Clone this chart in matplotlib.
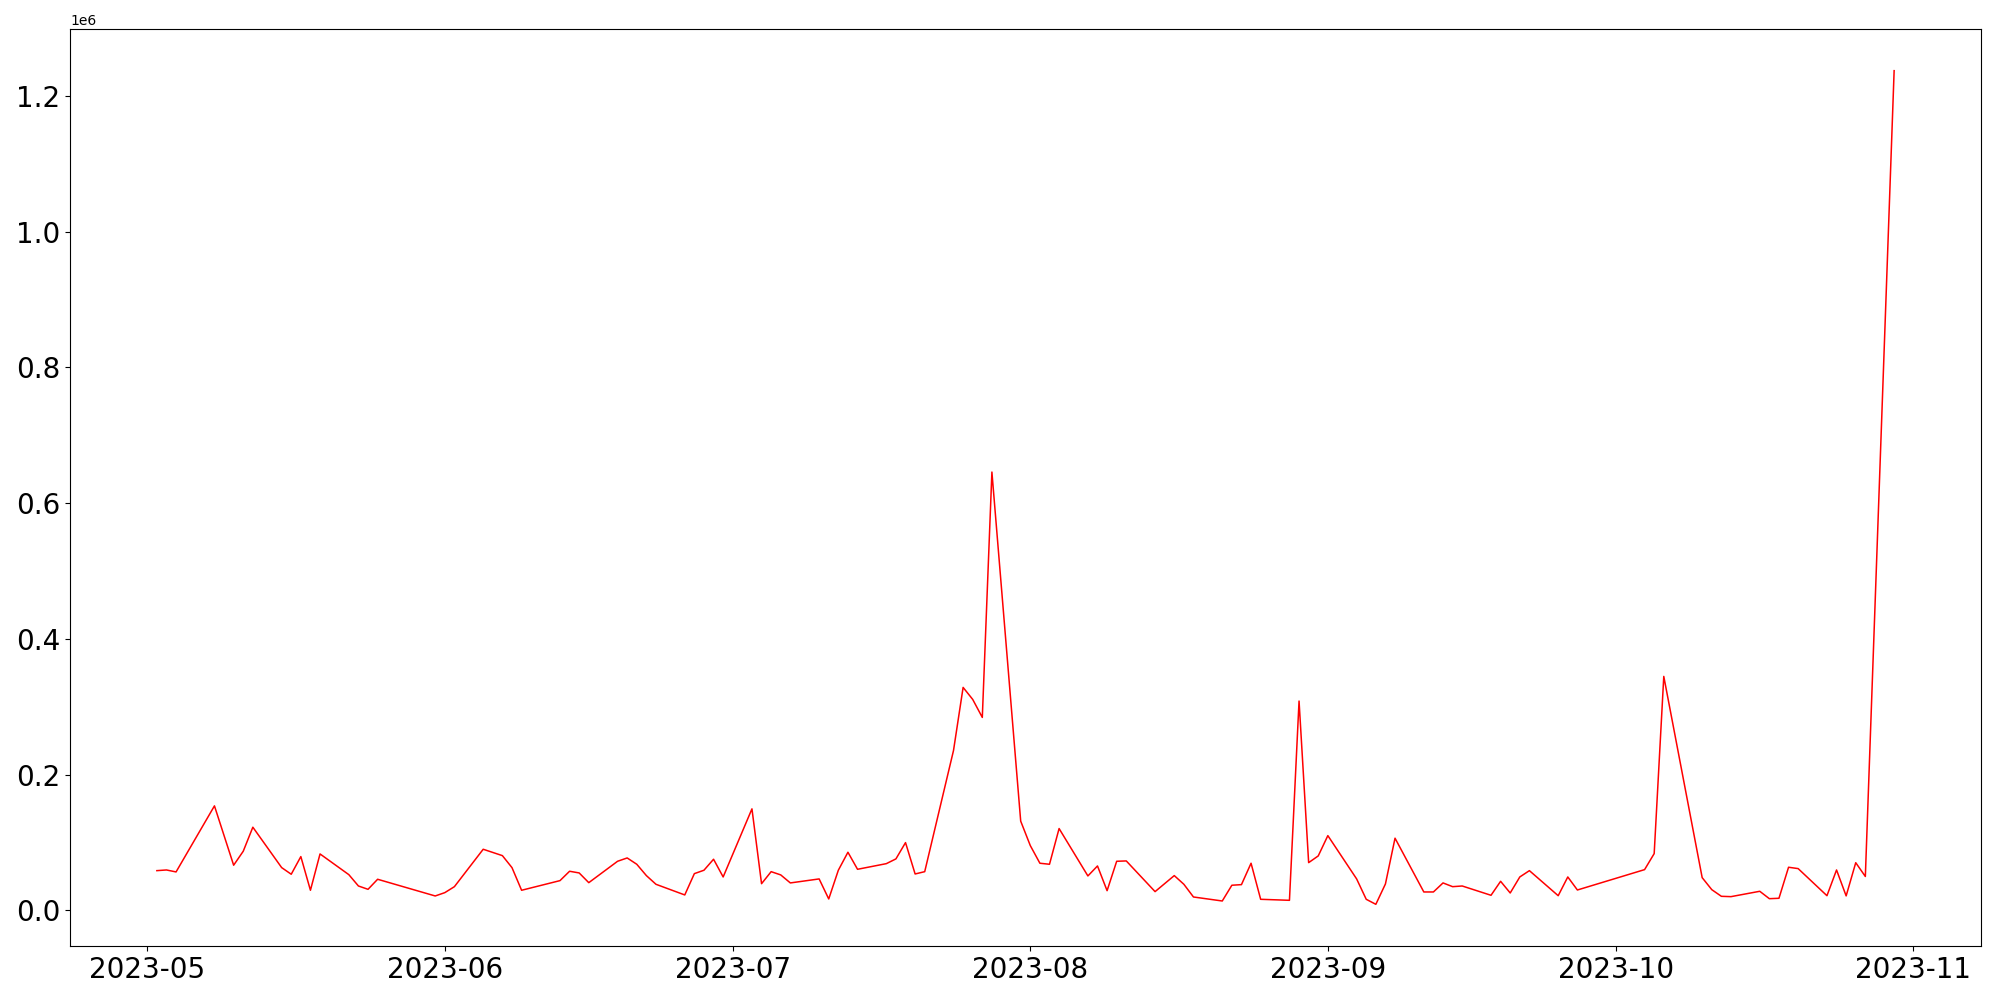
import pandas as pd
import matplotlib
matplotlib.use('Agg')
import matplotlib.pyplot as plt


# ----- Data -----
dates = [
    '2023-05-02', '2023-05-03', '2023-05-04', '2023-05-08', '2023-05-10',
    '2023-05-11', '2023-05-12', '2023-05-15', '2023-05-16', '2023-05-17',
    '2023-05-18', '2023-05-19', '2023-05-22', '2023-05-23', '2023-05-24',
    '2023-05-25', '2023-05-31', '2023-06-01', '2023-06-02', '2023-06-05',
    '2023-06-07', '2023-06-08', '2023-06-09', '2023-06-13', '2023-06-14',
    '2023-06-15', '2023-06-16', '2023-06-19', '2023-06-20', '2023-06-21',
    '2023-06-22', '2023-06-23', '2023-06-26', '2023-06-27', '2023-06-28',
    '2023-06-29', '2023-06-30', '2023-07-03', '2023-07-04', '2023-07-05',
    '2023-07-06', '2023-07-07', '2023-07-10', '2023-07-11', '2023-07-12',
    '2023-07-13', '2023-07-14', '2023-07-17', '2023-07-18', '2023-07-19',
    '2023-07-20', '2023-07-21', '2023-07-24', '2023-07-25', '2023-07-26',
    '2023-07-27', '2023-07-28', '2023-07-31', '2023-08-01', '2023-08-02',
    '2023-08-03', '2023-08-04', '2023-08-07', '2023-08-08', '2023-08-09',
    '2023-08-10', '2023-08-11', '2023-08-14', '2023-08-16', '2023-08-17',
    '2023-08-18', '2023-08-21', '2023-08-22', '2023-08-23', '2023-08-24',
    '2023-08-25', '2023-08-28', '2023-08-29', '2023-08-30', '2023-08-31',
    '2023-09-01', '2023-09-04', '2023-09-05', '2023-09-06', '2023-09-07',
    '2023-09-08', '2023-09-11', '2023-09-12', '2023-09-13', '2023-09-14',
    '2023-09-15', '2023-09-18', '2023-09-19', '2023-09-20', '2023-09-21',
    '2023-09-22', '2023-09-25', '2023-09-26', '2023-09-27', '2023-10-04',
    '2023-10-05', '2023-10-06', '2023-10-10', '2023-10-11', '2023-10-12',
    '2023-10-13', '2023-10-16', '2023-10-17', '2023-10-18', '2023-10-19',
    '2023-10-20', '2023-10-23', '2023-10-24', '2023-10-25', '2023-10-26',
    '2023-10-27', '2023-10-30',
]

values = [
    58700, 59700, 56800, 154100, 66700,
    87300, 122700, 63200, 53400, 79400,
    29800, 83300, 52800, 36100, 31200,
    46000, 21400, 26300, 35100, 90200,
    80800, 63100, 29800, 44000, 57800,
    55300, 41000, 72500, 77400, 68100,
    51400, 38600, 22900, 54300, 59300,
    75500, 49400, 149700, 39500, 57200,
    52400, 40600, 46500, 17000, 59300,
    85800, 60700, 69000, 76000, 100000,
    53800, 57200, 235700, 328600, 310900,
    284400, 645800, 131600, 95600, 69600,
    68100, 120700, 50900, 65600, 29200,
    72500, 73000, 27800, 51400, 38600,
    19900, 14000, 37200, 38100, 69600,
    16500, 15000, 308500, 70500, 80400,
    110300, 46500, 16500, 9100, 39100,
    106500, 27300, 27300, 40600, 35100,
    36100, 22400, 43000, 25800, 49400,
    58700, 21800, 49400, 30200, 60200,
    83800, 344800, 48400, 30700, 20900,
    20400, 28300, 17400, 18000, 63700,
    61700, 21800, 59700, 21500, 70400,
    50100, 1237000,
]

# ----- Plotting -----
x = pd.to_datetime(dates)

fig = plt.figure(figsize=(20, 10), dpi=100)
ax = fig.add_subplot(111)

ax.plot(x, values, color='red', linewidth=1.1)

ax.tick_params(axis='both', labelsize=20)

plt.subplots_adjust(left=0.035, right=0.9905, top=0.971, bottom=0.054)
fig.savefig('out.png')
